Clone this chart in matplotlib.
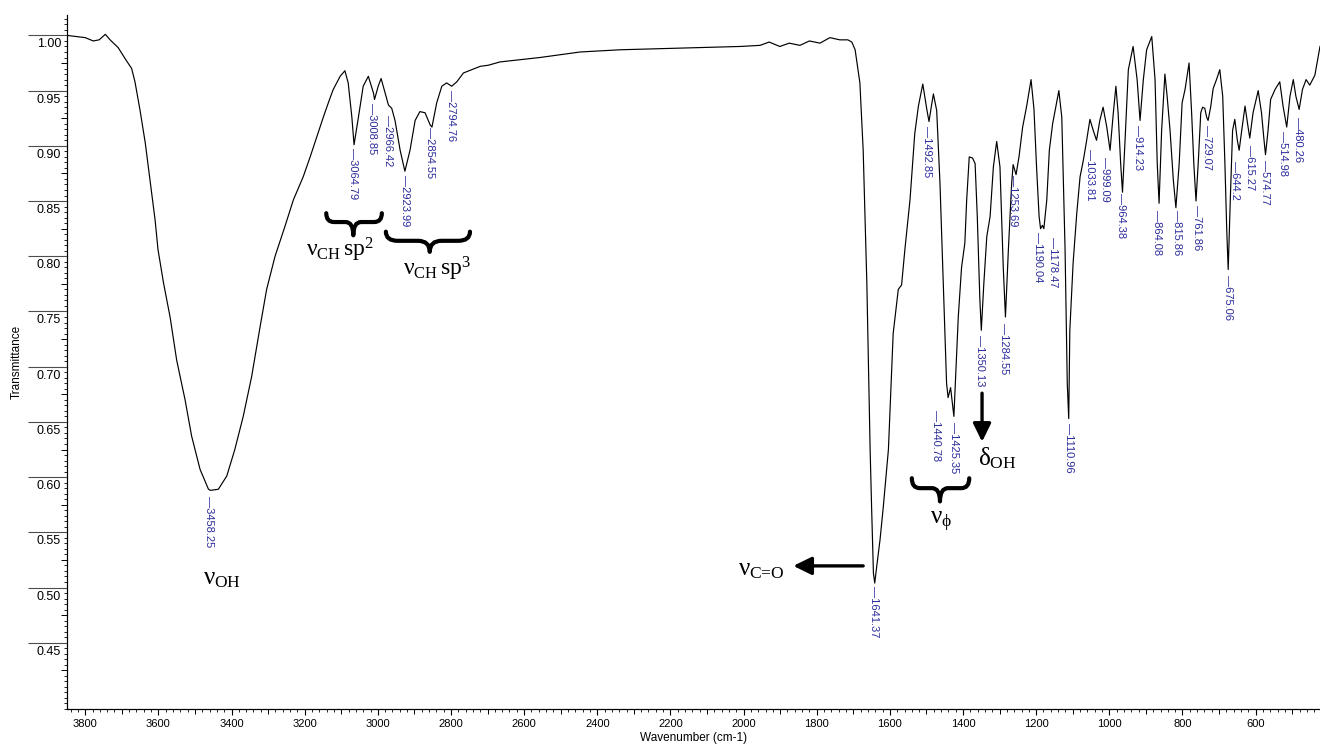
import matplotlib
matplotlib.use('Agg')
import matplotlib.pyplot as plt
from matplotlib.path import Path
from matplotlib.patches import PathPatch
from matplotlib.ticker import MultipleLocator, FixedLocator, NullFormatter
from matplotlib.transforms import ScaledTranslation

plt.rcParams['font.family'] = ['Liberation Sans', 'DejaVu Sans']
plt.rcParams['mathtext.fontset'] = 'custom'
plt.rcParams['mathtext.rm'] = 'Liberation Serif'
plt.rcParams['mathtext.it'] = 'Liberation Serif'

# IR spectrum (wavenumber in cm-1, transmittance)
wavenumber = [3849, 3800, 3778, 3762, 3745, 3732, 3710, 3691, 3673, 3664, 3650, 3636,
              3623, 3609, 3601, 3586, 3568, 3550, 3527, 3509, 3486, 3463, 3458, 3436,
              3413, 3391, 3368, 3345, 3322, 3304, 3281, 3272, 3254, 3231, 3204, 3185,
              3149, 3131, 3122, 3103, 3090, 3081, 3071, 3065, 3053, 3040, 3026, 3012,
              3009, 2999, 2991, 2980, 2971, 2962, 2953, 2939, 2926, 2912, 2898, 2885,
              2871, 2857, 2852, 2839, 2825, 2812, 2798, 2784, 2766, 2743, 2720, 2698,
              2666, 2557, 2447, 2338, 2229, 2119, 2010, 1955, 1930, 1901, 1875, 1846,
              1820, 1791, 1764, 1737, 1715, 1704, 1695, 1682, 1673, 1663, 1654, 1650,
              1645, 1641.4, 1636,
              1627, 1618, 1604, 1591, 1577, 1568, 1559, 1545, 1532, 1522, 1510, 1499,
              1493, 1486, 1481, 1472, 1463, 1454, 1445, 1440.8, 1434, 1425, 1413, 1404,
              1395, 1390, 1383, 1374, 1367, 1361, 1354, 1350, 1343, 1335, 1326, 1317,
              1308, 1299, 1290, 1284, 1276, 1267, 1263, 1255, 1247, 1237, 1226, 1214,
              1206, 1199, 1192, 1188, 1183, 1179, 1171, 1164, 1155, 1138, 1130, 1121,
              1115, 1111, 1108, 1099, 1089, 1080, 1071, 1062, 1053, 1044, 1035, 1026,
              1017, 1007, 998, 989, 982, 976, 969, 964, 957, 948, 935, 924,
              916, 907, 898, 884, 875, 869, 864, 857, 848, 842, 834, 825,
              818, 809, 801, 793, 782, 775, 769, 763, 757, 750, 745, 739,
              734, 730, 723, 716, 707, 698, 690, 684, 679, 675, 669, 663,
              657, 650, 645, 638, 629, 622, 616, 607, 593, 584, 577, 573,
              566, 559, 547, 534, 525, 515, 506, 497, 490, 481, 472, 462,
              452, 438, 424]
transmittance = [1.000, 0.998, 0.995, 0.996, 1.001, 0.996, 0.989, 0.979, 0.970, 0.958, 0.932, 0.903,
                 0.869, 0.833, 0.806, 0.776, 0.745, 0.706, 0.670, 0.637, 0.607, 0.589, 0.588, 0.589,
                 0.601, 0.625, 0.655, 0.691, 0.736, 0.770, 0.800, 0.809, 0.827, 0.851, 0.872, 0.890,
                 0.926, 0.943, 0.951, 0.963, 0.968, 0.957, 0.926, 0.901, 0.926, 0.954, 0.963, 0.948,
                 0.942, 0.954, 0.961, 0.948, 0.937, 0.934, 0.923, 0.896, 0.877, 0.896, 0.923, 0.931,
                 0.930, 0.919, 0.917, 0.939, 0.954, 0.957, 0.954, 0.958, 0.966, 0.969, 0.972, 0.973,
                 0.976, 0.980, 0.985, 0.987, 0.988, 0.989, 0.990, 0.991, 0.994, 0.990, 0.993, 0.991,
                 0.995, 0.993, 0.998, 0.996, 0.996, 0.994, 0.987, 0.957, 0.896, 0.776, 0.625, 0.573,
                 0.513, 0.504, 0.519,
                 0.543, 0.573, 0.625, 0.730, 0.770, 0.774, 0.806, 0.851, 0.911, 0.936, 0.956, 0.933,
                 0.922, 0.937, 0.947, 0.932, 0.866, 0.776, 0.685, 0.672, 0.681, 0.655, 0.745, 0.790,
                 0.812, 0.851, 0.890, 0.889, 0.884, 0.836, 0.761, 0.733, 0.776, 0.818, 0.836, 0.881,
                 0.904, 0.881, 0.790, 0.745, 0.806, 0.866, 0.883, 0.874, 0.890, 0.917, 0.936, 0.960,
                 0.933, 0.881, 0.836, 0.825, 0.828, 0.825, 0.851, 0.896, 0.920, 0.950, 0.926, 0.806,
                 0.685, 0.653, 0.733, 0.794, 0.839, 0.872, 0.887, 0.905, 0.924, 0.914, 0.905, 0.923,
                 0.935, 0.917, 0.896, 0.930, 0.954, 0.930, 0.884, 0.858, 0.905, 0.969, 0.990, 0.960,
                 0.923, 0.960, 0.987, 0.999, 0.960, 0.884, 0.848, 0.914, 0.965, 0.945, 0.914, 0.869,
                 0.844, 0.884, 0.939, 0.951, 0.975, 0.930, 0.884, 0.850, 0.884, 0.930, 0.935, 0.934,
                 0.926, 0.923, 0.935, 0.952, 0.960, 0.969, 0.945, 0.884, 0.824, 0.788, 0.854, 0.914,
                 0.924, 0.905, 0.896, 0.914, 0.936, 0.920, 0.907, 0.930, 0.950, 0.930, 0.905, 0.892,
                 0.914, 0.942, 0.951, 0.958, 0.936, 0.917, 0.945, 0.960, 0.945, 0.933, 0.951, 0.960,
                 0.955, 0.964, 0.990]

# peak picking labels: text, label position (wavenumber, transmittance)
peak_text = ['3458.25', '3064.79', '3008.85', '2966.42', '2923.99', '2854.55', '2794.76',
             '1641.37', '1492.85', '1440.78', '1425.35', '1350.13', '1284.55', '1253.69',
             '1190.04', '1178.47', '1110.96', '1033.81', '999.09', '964.38', '914.23',
             '864.08', '815.86', '761.86', '729.07', '675.06', '644.2', '615.27', '574.77',
             '514.98', '480.26']
peak_x = [3462, 3068, 3017, 2973, 2927, 2857, 2800,
          1643, 1498, 1474, 1425, 1354, 1288, 1263,
          1194, 1153, 1110, 1053, 1012, 968, 921,
          869, 816, 761, 732, 675, 657, 616, 575,
          525, 484]
peak_y = [0.583, 0.898, 0.9385, 0.928, 0.874, 0.917, 0.951,
          0.501, 0.918, 0.661, 0.650, 0.729, 0.740, 0.874,
          0.822, 0.817, 0.649, 0.897, 0.890, 0.857, 0.919,
          0.842, 0.842, 0.8465, 0.919, 0.783, 0.886, 0.901, 0.887,
          0.913, 0.926]

fig = plt.figure(figsize=(13.2, 7.47), dpi=100)
ax = fig.add_axes([67.3 / 1320, 1 - 709 / 747, 1 - 67.3 / 1320, (709 - 15) / 747])

ax.plot(wavenumber, transmittance, color='black', lw=0.85)
ax.set_xlim(3849, 424)
ax.set_ylim(0.390, 1.0185)

for s in ['top', 'right']:
    ax.spines[s].set_visible(False)

# x ticks
ax.xaxis.set_major_locator(MultipleLocator(200))
ax.xaxis.set_minor_locator(MultipleLocator(20))
ax.tick_params(axis='x', which='major', length=4.5, width=0.8, pad=3, labelsize=8)
ax.tick_params(axis='x', which='minor', length=2.5, width=0.6)
secx = ax.secondary_xaxis('bottom')
secx.xaxis.set_major_locator(FixedLocator([v for v in range(3700, 400, -200)]))
secx.xaxis.set_major_formatter(NullFormatter())
secx.tick_params(length=3.5, width=0.7)

# y ticks: long major lines with the value written underneath
yt = [0.45, 0.50, 0.55, 0.60, 0.65, 0.70, 0.75, 0.80, 0.85, 0.90, 0.95, 1.00]
ax.set_yticks(yt)
ax.set_yticklabels(['%.2f' % v for v in yt])
ax.yaxis.set_minor_locator(MultipleLocator(0.005))
ax.tick_params(axis='y', which='major', length=28, width=0.8, color='0.3', pad=-23.5, labelsize=9)
ax.tick_params(axis='y', which='minor', length=2.5, width=0.6)
down = ScaledTranslation(0, -0.075, fig.dpi_scale_trans)
for lab in ax.get_yticklabels():
    lab.set_transform(lab.get_transform() + down)
secy = ax.secondary_yaxis('left')
secy.yaxis.set_major_locator(FixedLocator([0.425 + 0.05 * i for i in range(12)]))
secy.yaxis.set_major_formatter(NullFormatter())
secy.tick_params(length=4.5, width=0.7)

ax.set_xlabel('Wavenumber (cm-1)', fontsize=8.5, labelpad=2)
ax.set_ylabel('Transmittance', fontsize=8.5, labelpad=4)

for t, x, y in zip(peak_text, peak_x, peak_y):
    ax.text(x, y, '\u2014' + t, rotation=270, ha='center', va='top',
            color='#2b2b9b', fontsize=8)


def brace(x0, x1, xm, ytop, ymid, ybot):
    q = (x1 - x0) * 0.14
    verts = [(x0, ytop), (x0, ymid), (x0 + q, ymid),
             (xm - q, ymid),
             (xm, ymid), (xm, ybot),
             (xm, ymid), (xm + q, ymid),
             (x1 - q, ymid),
             (x1, ymid), (x1, ytop)]
    codes = [Path.MOVETO, Path.CURVE3, Path.CURVE3, Path.LINETO, Path.CURVE3, Path.CURVE3,
             Path.CURVE3, Path.CURVE3, Path.LINETO, Path.CURVE3, Path.CURVE3]
    ax.add_patch(PathPatch(Path(verts, codes), fill=False, lw=3, color='black',
                           capstyle='round', joinstyle='round'))


brace(3141, 2989, 3067, 0.839, 0.831, 0.819)
brace(2978, 2748, 2858, 0.8223, 0.814, 0.804)
brace(1540, 1383, 1463, 0.599, 0.590, 0.578)

serif = dict(ha='center', va='center', color='black')
ax.text(3426, 0.509, r'$\nu_{\mathrm{OH}}$', fontsize=18, **serif)
ax.text(3103, 0.806, r'$\nu_{\mathrm{CH}}\,\mathrm{sp}^{2}$', fontsize=17, **serif)
ax.text(2838, 0.789, r'$\nu_{\mathrm{CH}}\,\mathrm{sp}^{3}$', fontsize=17, **serif)
ax.text(1460, 0.559, r'$\nu_{\phi}$', fontsize=18, **serif)
ax.text(1887, 0.517, r'$\nu_{\text{C=O}}$', fontsize=18, ha='right', va='center')
ax.text(1359, 0.617, r'$\delta_{\mathrm{OH}}$', fontsize=18, ha='left', va='center')

arrow = dict(arrowstyle='-|>,head_length=0.55,head_width=0.27', lw=2.4, color='black',
             mutation_scale=20, shrinkA=0, shrinkB=0)
ax.annotate('', xy=(1864, 0.5196), xytext=(1673, 0.5196), arrowprops=arrow)
ax.annotate('', xy=(1348, 0.632), xytext=(1348, 0.676), arrowprops=arrow)

fig.savefig('out.png', dpi=100)
